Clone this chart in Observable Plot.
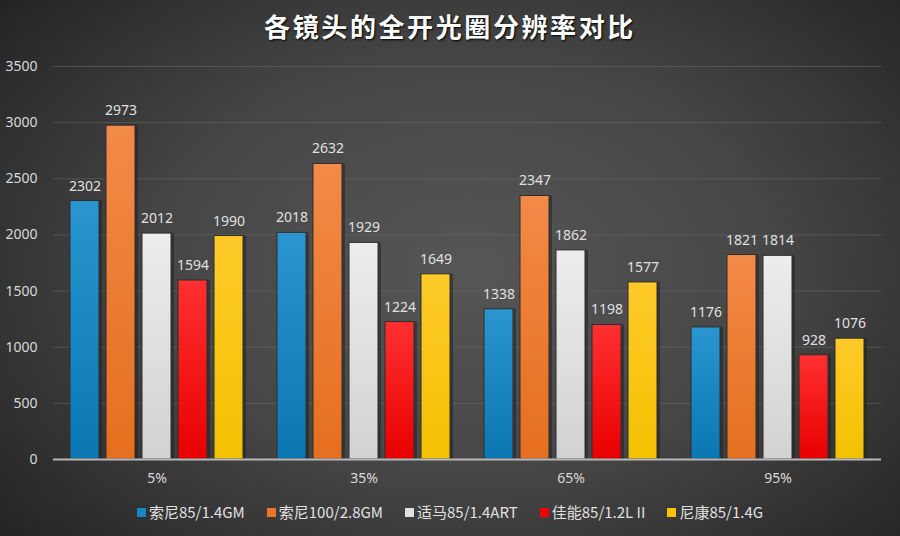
<!DOCTYPE html>
<html><head><meta charset="utf-8">
<script src="https://cdn.jsdelivr.net/npm/d3@7"></script>
<script src="https://cdn.jsdelivr.net/npm/@observablehq/plot@0.6"></script>
<style>
html,body{margin:0;padding:0;}
#wrap{width:900px;height:536px;position:relative;overflow:hidden;
 background:radial-gradient(ellipse 75% 85% at 52% 50%, #565656 0%, #464646 45%, #2c2c2c 80%, #1c1c1c 100%);
 font-family:"Noto Sans CJK SC","Noto Sans",sans-serif;}
#title{height:50px;line-height:52px;text-align:center;color:#fff;font-size:26px;font-weight:bold;letter-spacing:2.6px;text-shadow:1px 1px 2px #000;}
#legend{position:absolute;top:501px;left:0;width:900px;display:flex;justify-content:center;gap:22px;color:#e0e0e0;font-size:15px;}
#legend span.sw{display:inline-block;width:9px;height:9px;margin-right:3px;vertical-align:1px;}
</style></head>
<body>
<svg width="0" height="0" style="position:absolute">
 <defs>
  <linearGradient id="g0" x1="0" y1="0" x2="0" y2="1"><stop offset="0" stop-color="#2a95cf"/><stop offset="1" stop-color="#0a77b3"/></linearGradient>
  <linearGradient id="g1" x1="0" y1="0" x2="0" y2="1"><stop offset="0" stop-color="#f28a48"/><stop offset="1" stop-color="#e56f1e"/></linearGradient>
  <linearGradient id="g2" x1="0" y1="0" x2="0" y2="1"><stop offset="0" stop-color="#ededed"/><stop offset="1" stop-color="#d2d2d2"/></linearGradient>
  <linearGradient id="g3" x1="0" y1="0" x2="0" y2="1"><stop offset="0" stop-color="#ff3030"/><stop offset="1" stop-color="#e80000"/></linearGradient>
  <linearGradient id="g4" x1="0" y1="0" x2="0" y2="1"><stop offset="0" stop-color="#ffca2a"/><stop offset="1" stop-color="#f2c100"/></linearGradient>
 </defs>
</svg>
<div id="wrap">
 <div id="title">各镜头的全开光圈分辨率对比</div>
 <div id="chart"></div>
 <div id="legend"></div>
</div>
<script>
const groups = ["5%", "35%", "65%", "95%"];
const series = ["索尼85/1.4GM", "索尼100/2.8GM", "适马85/1.4ART", "佳能85/1.2L II", "尼康85/1.4G"];
const sony85 = [2302, 2018, 1338, 1176];
const sony100 = [2973, 2632, 2347, 1821];
const sigma85 = [2012, 1929, 1862, 1814];
const canon85 = [1594, 1224, 1198, 928];
const nikon85 = [1990, 1649, 1577, 1076];
const yTicks = [0, 500, 1000, 1500, 2000, 2500, 3000, 3500];
const swatch = ["#1787c4", "#ea7628", "#e0e0e0", "#f40000", "#f8c300"];
const fills = ["url(#g0)", "url(#g1)", "url(#g2)", "url(#g3)", "url(#g4)"];

const valueLists = [sony85, sony100, sigma85, canon85, nikon85];
const data = [];
groups.forEach((g, gi) => series.forEach((s, si) => data.push({group: g, series: s, si, value: valueLists[si][gi]})));

const barMarks = series.map((s, si) => Plot.barY(data.filter(d => d.si === si), {
  fx: "group", x: "series", y: "value", fill: fills[si], stroke: "#2e2e2e", strokeWidth: 1
}));
const shadowMarks = Plot.barY(data, {fx: "group", x: "series", y: "value", fill: "#1e1e1e", fillOpacity: 0.5, dx: 3});

const chart = Plot.plot({
  width: 900, height: 440,
  marginLeft: 51, marginRight: 18, marginTop: 16, marginBottom: 31,
  style: {background: "transparent", color: "#d9d9d9", fontFamily: "'Noto Sans', 'Noto Sans CJK SC', sans-serif", fontSize: "14px"},
  fx: {domain: groups, padding: 0, label: null, axis: "bottom", tickSize: 0, tickPadding: 14},
  x: {domain: series, paddingInner: 0.19, paddingOuter: 0.4, axis: null},
  y: {domain: [0, 3500], ticks: yTicks, tickFormat: d => String(d), label: null, grid: false, tickSize: 0, tickPadding: 16},
  marks: [
    Plot.gridY(yTicks, {stroke: "#6a6a6a", strokeOpacity: 0.55}),
    shadowMarks,
    ...barMarks,
    Plot.text(data, {fx: "group", x: "series", y: "value", text: d => String(d.value), dy: -15, fill: "#e0e0e0", fontSize: 14}),
    Plot.ruleY([0], {stroke: "#b8b8b8", strokeWidth: 2})
  ]
});
document.getElementById("chart").appendChild(chart);

const legend = document.getElementById("legend");
series.forEach((s, i) => {
  const item = document.createElement("div");
  item.innerHTML = `<span class="sw" style="background:${swatch[i]}"></span>${s}`;
  legend.appendChild(item);
});
</script>
</body></html>
